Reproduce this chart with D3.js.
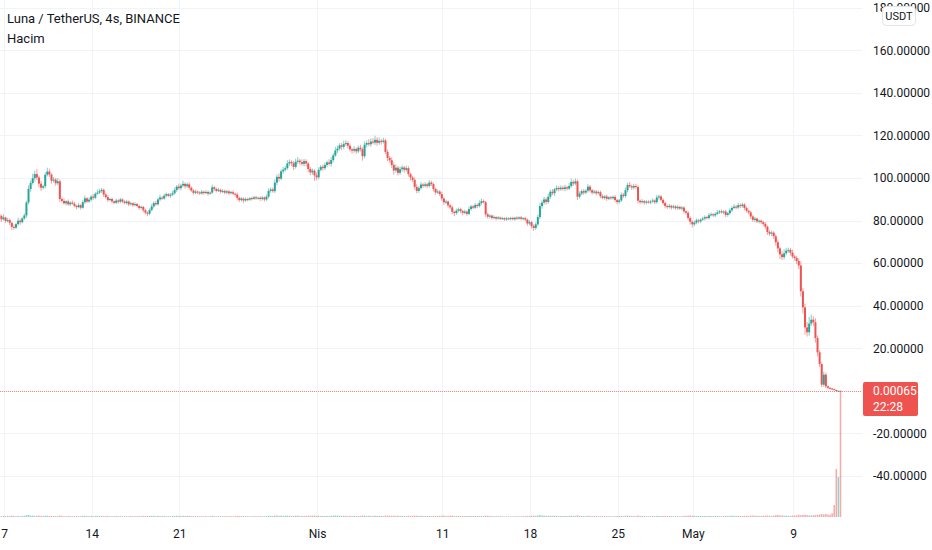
<!DOCTYPE html>
<html>
<head>
<meta charset="utf-8">
<script src="https://cdn.jsdelivr.net/npm/d3@7"></script>
<style>
	body { margin: 0; background: #ffffff; }
	svg { display: block; font-family: Roboto, "Noto Sans", sans-serif; }
</style>
</head>
<body>
<script>
// Luna / TetherUS 4h candles, Mar 6 15:00 -> May 12 19:00 (UTC), 6 candles per row
var firstOpen = 83.0;

var closes = [
	82.1, 80.6, 81.4, 79.8, 80.2, 78.9,
	77.0, 76.6, 78.3, 79.9, 79.2, 81.0,
	82.4, 88.5, 94.8, 97.6, 99.9, 101.8,
	100.2, 97.3, 95.4, 96.1, 101.5, 103.0,
	101.6, 98.7, 99.2, 97.5, 98.4, 90.1,
	89.2, 88.1, 89.0, 87.6, 88.4, 87.9,
	86.9, 86.3, 87.2, 86.0, 88.6, 90.4,
	88.9, 89.8, 91.2, 90.7, 92.6, 93.1,
	93.8, 94.4, 92.2, 91.0, 89.6, 90.1,
	89.0, 88.3, 89.4, 88.8, 89.9, 88.9,
	88.2, 88.9, 87.6, 88.1, 87.2, 87.7,
	86.8, 85.9, 86.4, 84.8, 83.7, 83.2,
	84.9, 86.6, 88.2, 87.6, 89.9, 90.8,
	90.3, 91.7, 92.4, 91.6, 92.1, 92.8,
	94.3, 95.9, 95.2, 96.4, 97.2, 96.1,
	97.0, 95.4, 94.1, 93.0, 93.6, 93.2,
	92.7, 93.5, 92.9, 93.4, 92.6, 93.1,
	95.6, 94.8, 93.9, 94.4, 93.5, 93.9,
	93.1, 93.7, 92.8, 93.3, 92.6, 92.2,
	90.6, 89.6, 90.3, 89.4, 90.1, 89.8,
	90.5, 90.2, 90.9, 90.4, 90.7, 90.1,
	90.8, 89.9, 91.2, 93.9, 94.6, 93.8,
	97.8, 100.5, 99.7, 103.1, 103.9, 104.6,
	106.8, 107.5, 106.9, 105.2, 107.6, 108.1,
	107.4, 106.6, 107.9, 106.8, 104.2, 102.6,
	103.4, 101.2, 100.3, 103.8, 105.2, 104.6,
	106.1, 107.3, 106.6, 108.4, 110.6, 112.9,
	113.8, 115.3, 114.6, 115.9, 116.4, 115.1,
	113.4, 112.8, 113.6, 112.5, 114.2, 113.5,
	110.2, 115.6, 116.4, 115.8, 117.1, 116.6,
	117.9, 116.5, 117.4, 116.9, 117.6, 112.2,
	109.4, 108.3, 106.1, 103.5, 104.8, 102.4,
	104.1, 104.9, 103.8, 104.6, 101.8, 100.2,
	99.1, 95.8, 93.9, 95.2, 96.9, 96.3,
	97.0, 96.2, 97.8, 97.1, 94.8, 93.2,
	93.6, 92.4, 90.3, 88.6, 88.9, 87.1,
	86.2, 84.1, 83.5, 84.6, 85.3, 84.4,
	83.6, 84.2, 83.1, 85.4, 86.6, 86.0,
	87.3, 86.8, 88.2, 89.1, 88.6, 82.9,
	81.8, 82.3, 81.2, 81.6, 80.9, 81.4,
	80.8, 81.1, 80.5, 81.0, 80.7, 81.2,
	80.6, 81.3, 80.9, 81.5, 80.8, 81.1,
	80.4, 78.6, 79.2, 77.4, 76.5, 78.2,
	81.6, 86.8, 88.4, 89.9, 88.7, 91.2,
	93.5, 92.8, 94.6, 95.3, 94.7, 95.4,
	94.8, 95.6, 95.0, 96.2, 98.1, 97.4,
	98.4, 91.2, 92.6, 93.8, 93.1, 94.0,
	95.9, 94.2, 93.1, 93.6, 92.8, 93.3,
	91.4, 90.6, 91.3, 90.2, 90.9, 90.5,
	91.1, 89.6, 88.7, 89.4, 92.1, 91.5,
	94.2, 96.7, 96.1, 95.5, 96.2, 95.7,
	89.3, 88.6, 89.1, 88.4, 88.9, 88.5,
	88.9, 89.4, 88.6, 90.8, 91.3, 89.7,
	88.2, 86.8, 86.3, 86.9, 86.1, 86.6,
	85.8, 86.4, 85.6, 86.1, 84.3, 83.6,
	81.2, 79.4, 78.2, 79.0, 80.1, 79.6,
	80.4, 80.9, 81.6, 81.2, 82.5, 82.9,
	82.4, 83.1, 83.8, 84.3, 83.9, 84.2,
	82.6, 83.4, 84.8, 85.9, 86.5, 86.1,
	87.2, 86.8, 87.5, 85.9, 84.6, 83.8,
	81.9, 80.3, 80.9, 79.6, 79.9, 79.2,
	78.4, 77.1, 74.6, 73.8, 74.3, 72.6,
	69.8, 66.9, 64.1, 62.8, 64.6, 65.8,
	66.2, 64.9, 63.1, 62.4, 61.0, 58.9,
	46.8, 39.2, 29.8, 27.5, 31.6, 33.4,
	32.2, 24.8, 18.1, 12.6, 2.9, 7.6,
	2.1, 1.4, 1.1, 0.8, 0.4, 0.03,
	0.05, 0.00065
];

var wickUp = [
	1.2, 0.6, 1.5, 0.4, 1.0, 0.8,
	0.5, 1.1, 0.7, 1.4, 0.9, 0.6,
	1.0, 0.8, 1.7, 1.2, 2.1, 1.6,
	2.4, 0.9, 1.3, 0.7, 1.1, 1.8,
	1.4, 0.6, 1.2, 0.8, 1.5, 0.9,
	0.7, 1.2, 0.5, 0.9, 0.6, 1.0,
	0.8, 0.5, 1.1, 0.6, 0.9, 1.3,
	0.6, 1.0, 0.8, 1.2, 0.7, 1.4,
	1.1, 0.9, 0.6, 0.8, 1.0, 0.5,
	0.7, 0.4, 0.9, 0.6, 0.8, 0.5,
	0.6, 0.8, 0.5, 0.7, 0.4, 0.9,
	0.5, 0.7, 0.6, 0.4, 0.8, 0.6,
	0.9, 1.2, 0.7, 1.0, 0.8, 1.3,
	0.6, 0.9, 0.7, 0.5, 0.8, 1.1,
	1.2, 0.8, 1.4, 0.9, 1.5, 0.7,
	0.8, 1.0, 0.6, 0.7, 0.9, 0.5,
	0.6, 0.8, 0.5, 0.9, 0.7, 0.6,
	1.3, 0.7, 0.6, 0.9, 0.5, 0.8,
	0.6, 0.8, 0.5, 0.7, 0.9, 0.4,
	0.9, 0.6, 0.8, 0.5, 0.7, 0.6,
	0.5, 0.7, 0.6, 0.8, 0.5, 0.6,
	0.7, 0.5, 1.0, 1.2, 0.9, 0.8,
	1.4, 1.1, 1.6, 0.9, 1.3, 1.0,
	1.5, 1.2, 0.8, 1.1, 1.4, 1.7,
	0.9, 1.3, 1.1, 0.8, 0.6, 0.9,
	1.0, 0.7, 1.4, 1.2, 0.9, 1.1,
	1.2, 0.8, 1.5, 1.3, 1.1, 1.6,
	1.4, 1.0, 1.2, 1.6, 1.3, 0.9,
	1.1, 0.8, 1.3, 0.7, 1.0, 1.4,
	0.9, 1.5, 1.2, 1.8, 1.4, 1.6,
	1.9, 1.2, 1.6, 1.0, 1.3, 0.8,
	1.1, 0.9, 1.4, 1.2, 1.6, 0.8,
	1.3, 1.0, 0.7, 1.2, 0.9, 0.6,
	0.8, 1.1, 1.3, 0.9, 1.2, 0.7,
	1.0, 0.8, 1.2, 0.9, 0.7, 0.6,
	0.9, 0.7, 1.1, 0.6, 0.8, 0.5,
	0.7, 0.9, 0.6, 1.0, 0.8, 0.7,
	0.6, 0.9, 0.5, 1.2, 0.8, 0.7,
	1.0, 0.7, 1.3, 1.1, 0.8, 0.6,
	0.8, 0.6, 0.5, 0.9, 0.4, 0.7,
	0.5, 0.6, 0.4, 0.7, 0.5, 0.6,
	0.6, 0.5, 0.7, 0.4, 0.6, 0.5,
	0.7, 0.5, 0.9, 0.6, 0.8, 1.0,
	1.2, 1.5, 1.1, 1.3, 0.9, 1.4,
	1.0, 1.3, 0.8, 1.2, 0.9, 1.1,
	0.9, 1.2, 0.7, 1.4, 1.6, 1.0,
	1.3, 0.9, 1.1, 0.8, 1.0, 0.7,
	1.2, 0.8, 0.6, 0.9, 0.7, 0.8,
	0.7, 0.9, 0.6, 0.8, 0.5, 0.7,
	0.6, 0.8, 0.5, 0.7, 1.1, 0.9,
	1.3, 1.0, 1.4, 0.8, 1.1, 0.9,
	0.8, 0.6, 0.9, 0.5, 0.7, 0.6,
	0.7, 0.9, 0.6, 1.2, 0.8, 0.7,
	0.8, 0.6, 0.7, 0.9, 0.5, 0.8,
	0.6, 0.8, 0.5, 0.7, 0.6, 0.5,
	0.9, 0.7, 0.6, 1.0, 0.8, 0.6,
	0.7, 0.9, 0.8, 0.6, 1.0, 0.8,
	0.6, 0.8, 1.1, 0.7, 0.9, 0.6,
	0.8, 0.7, 1.0, 0.9, 1.2, 0.8,
	1.1, 0.8, 0.9, 0.6, 0.7, 0.5,
	0.8, 0.6, 0.9, 0.5, 0.7, 0.6,
	0.7, 0.9, 0.6, 0.8, 1.0, 0.7,
	1.0, 1.2, 0.8, 1.5, 1.9, 1.3,
	1.1, 0.9, 1.4, 0.8, 1.0, 1.2,
	2.0, 1.5, 1.8, 2.6, 3.1, 2.4,
	1.6, 1.9, 1.2, 1.0, 0.8, 1.4,
	0.9, 0.5, 0.3, 0.2, 0.2, 0.1,
	0.02, 0.01
];

var wickDn = [
	0.8, 1.3, 0.6, 1.0, 0.7, 1.1,
	1.4, 0.9, 0.5, 0.8, 1.2, 0.6,
	0.7, 1.1, 0.9, 1.3, 0.8, 1.5,
	1.2, 1.8, 1.6, 0.9, 1.0, 0.8,
	1.1, 1.4, 0.8, 1.2, 0.9, 1.3,
	0.9, 0.6, 1.0, 0.7, 0.8, 0.5,
	0.7, 1.0, 0.6, 0.9, 0.5, 0.8,
	0.8, 0.6, 0.9, 1.0, 0.7, 0.5,
	0.6, 0.8, 1.1, 0.7, 0.9, 0.6,
	0.8, 0.6, 0.5, 0.9, 0.7, 0.6,
	0.5, 0.7, 0.9, 0.6, 0.8, 0.5,
	0.7, 0.9, 0.6, 1.0, 0.8, 1.2,
	0.8, 0.6, 0.9, 0.7, 0.5, 0.8,
	0.7, 0.5, 0.8, 0.6, 0.9, 0.5,
	0.6, 0.9, 0.7, 1.0, 0.8, 1.1,
	0.8, 1.1, 0.7, 0.9, 0.6, 0.8,
	0.7, 0.5, 0.8, 0.6, 0.9, 0.5,
	0.6, 0.9, 0.7, 0.5, 0.8, 0.6,
	0.8, 0.6, 0.9, 0.5, 0.7, 1.0,
	1.2, 0.9, 0.7, 1.1, 0.6, 0.8,
	0.6, 0.8, 0.5, 0.7, 0.6, 0.9,
	0.7, 1.0, 0.6, 0.8, 0.9, 0.7,
	0.9, 1.2, 1.4, 0.8, 1.1, 0.9,
	0.8, 1.1, 1.3, 1.6, 0.9, 1.0,
	1.2, 0.9, 1.1, 1.4, 1.6, 1.3,
	1.1, 2.6, 1.4, 1.0, 0.8, 1.2,
	0.9, 1.1, 0.8, 1.3, 1.0, 0.7,
	1.2, 0.9, 1.5, 1.1, 0.8, 1.3,
	1.0, 1.4, 0.9, 1.2, 0.8, 1.1,
	2.1, 1.0, 1.3, 0.9, 1.2, 0.8,
	1.1, 1.4, 0.9, 1.2, 0.8, 1.0,
	1.6, 1.2, 1.4, 1.9, 1.0, 1.3,
	0.9, 1.1, 1.3, 0.8, 1.2, 1.4,
	1.0, 1.3, 1.1, 0.9, 0.7, 1.0,
	0.8, 1.0, 0.7, 0.9, 1.2, 1.1,
	0.7, 0.9, 1.0, 1.2, 0.8, 1.1,
	0.9, 1.2, 1.4, 0.8, 0.7, 1.0,
	1.1, 0.7, 0.9, 0.6, 0.8, 0.7,
	0.6, 0.9, 0.7, 0.8, 0.6, 1.2,
	0.9, 0.7, 0.8, 0.6, 0.9, 0.5,
	0.6, 0.5, 0.7, 0.6, 0.5, 0.7,
	0.5, 0.7, 0.6, 0.5, 0.8, 0.6,
	0.9, 1.1, 0.8, 1.2, 1.4, 0.9,
	0.8, 1.0, 1.3, 0.9, 1.2, 0.8,
	1.1, 0.9, 1.2, 0.8, 1.0, 0.7,
	0.8, 1.1, 0.9, 0.7, 0.8, 1.2,
	0.9, 1.6, 1.0, 0.8, 1.1, 0.7,
	0.8, 1.0, 0.9, 0.7, 1.1, 0.6,
	0.9, 0.7, 0.8, 1.0, 0.6, 0.8,
	0.7, 0.9, 1.1, 0.8, 0.6, 0.9,
	0.8, 1.0, 0.7, 1.2, 0.9, 0.8,
	1.3, 0.9, 0.7, 1.0, 0.8, 0.6,
	0.8, 0.6, 0.9, 0.7, 1.0, 0.8,
	0.9, 1.1, 0.8, 0.7, 1.0, 0.6,
	0.7, 0.9, 0.6, 0.8, 1.0, 0.9,
	1.1, 1.3, 1.5, 0.9, 0.8, 1.0,
	0.8, 0.6, 0.9, 0.7, 0.8, 0.6,
	0.7, 0.9, 0.6, 0.8, 0.7, 0.9,
	1.0, 0.8, 0.7, 0.9, 0.6, 0.8,
	0.7, 0.9, 0.8, 1.1, 0.9, 1.0,
	1.2, 0.9, 1.1, 0.8, 1.0, 0.9,
	1.0, 1.2, 1.4, 0.9, 1.1, 1.3,
	1.6, 1.9, 2.2, 1.4, 1.1, 0.9,
	1.0, 1.3, 0.9, 1.2, 1.4, 1.8,
	2.5, 2.9, 3.4, 2.0, 1.6, 1.2,
	1.8, 2.2, 1.9, 1.5, 1.1, 1.0,
	0.8, 0.5, 0.4, 0.3, 0.2, 0.02,
	0.01, 0.0
];

// volume in relative units (last candle = 1000)
var volumes = [
	9, 7, 8, 6, 10, 8,
	11, 8, 7, 9, 6, 8,
	10, 14, 16, 12, 11, 9,
	10, 12, 9, 8, 11, 10,
	8, 9, 7, 8, 7, 12,
	9, 7, 6, 8, 7, 6,
	7, 8, 6, 7, 9, 10,
	8, 7, 9, 6, 8, 9,
	8, 9, 7, 8, 9, 6,
	7, 6, 8, 6, 7, 6,
	6, 7, 6, 8, 6, 7,
	7, 8, 6, 9, 8, 9,
	8, 9, 10, 7, 9, 8,
	7, 8, 6, 7, 6, 8,
	9, 10, 8, 9, 10, 8,
	9, 8, 7, 8, 6, 7,
	6, 7, 6, 7, 6, 6,
	9, 7, 6, 7, 6, 7,
	6, 7, 6, 7, 6, 7,
	9, 8, 7, 8, 6, 7,
	6, 6, 7, 6, 6, 7,
	7, 6, 8, 10, 9, 8,
	11, 12, 10, 11, 9, 10,
	11, 10, 8, 9, 10, 11,
	8, 9, 8, 9, 10, 11,
	10, 12, 9, 10, 8, 9,
	8, 9, 8, 10, 11, 12,
	11, 10, 9, 10, 9, 8,
	9, 8, 9, 7, 8, 9,
	12, 11, 9, 10, 9, 8,
	10, 9, 8, 9, 8, 12,
	11, 10, 9, 11, 9, 10,
	8, 9, 8, 7, 10, 9,
	9, 11, 10, 8, 9, 8,
	8, 7, 8, 7, 9, 8,
	8, 9, 10, 11, 8, 9,
	10, 11, 9, 8, 8, 7,
	8, 7, 8, 9, 8, 7,
	8, 7, 8, 8, 7, 11,
	9, 8, 7, 6, 7, 6,
	6, 6, 5, 6, 5, 6,
	5, 6, 6, 5, 6, 6,
	7, 9, 8, 10, 11, 9,
	12, 15, 12, 11, 9, 10,
	10, 9, 10, 9, 8, 8,
	8, 9, 7, 9, 10, 9,
	9, 13, 9, 8, 7, 7,
	9, 8, 7, 7, 8, 6,
	7, 7, 6, 7, 6, 6,
	6, 7, 8, 7, 9, 7,
	10, 11, 9, 8, 8, 7,
	12, 9, 8, 7, 7, 6,
	7, 8, 7, 9, 8, 8,
	8, 9, 7, 7, 8, 6,
	7, 7, 6, 7, 9, 9,
	11, 12, 10, 9, 8, 8,
	8, 7, 8, 7, 9, 8,
	7, 8, 8, 7, 7, 7,
	9, 8, 9, 10, 9, 8,
	9, 8, 8, 9, 10, 9,
	11, 12, 10, 10, 9, 9,
	10, 11, 12, 10, 9, 11,
	14, 16, 13, 12, 10, 11,
	9, 10, 11, 12, 13, 18,
	14, 16, 18, 15, 12, 13,
	14, 15, 17, 19, 24, 20,
	25, 20, 18, 30, 95, 381,
	317, 1000
];

var priceTicks = [180, 160, 140, 120, 100, 80, 60, 40, 20, 0, -20, -40];
var dateTicks = ["2022-03-07", "2022-03-14", "2022-03-21", "2022-04-01", "2022-04-11",
	"2022-04-18", "2022-04-25", "2022-05-01", "2022-05-09"];
var dateLabels = ["7", "14", "21", "Nis", "11", "18", "25", "May", "9"];

var lastPrice = 0.00065,
	countdown = "22:28";

var width		= 932,
	height		= 550,
	plotRight	= 862,
	plotBottom	= 518,
	up			= "#26a69a",
	down		= "#ef5350",
	gridColor	= "#f0f3fa",
	textColor	= "#131722";

var start = Date.UTC(2022, 2, 6, 15);

var candles = closes.map(function(c, i) {
	var o = i ? closes[i - 1] : firstOpen;
	return {
		t: new Date(start + i * 4 * 3600 * 1000),
		o: o,
		c: c,
		h: Math.max(o, c) + wickUp[i],
		l: Math.max(0, Math.min(o, c) - wickDn[i]),
		v: volumes[i]
	};
});

var x = d3.scaleUtc()
	.domain([new Date(Date.UTC(2022, 2, 7)), new Date(Date.UTC(2022, 4, 9))])
	.range([4, 793]);

var y = d3.scaleLinear()
	.domain([-40, 180])
	.range([476, 7.6]);

var yVol = d3.scaleLinear()
	.domain([0, d3.max(volumes)])
	.range([517, 391]);

var svg = d3.select("body")
	.append("svg")
	.attr("width", width)
	.attr("height", height);

svg.append("defs").append("clipPath")
	.attr("id", "plot")
	.append("rect")
	.attr("x", 0)
	.attr("y", 0)
	.attr("width", plotRight)
	.attr("height", plotBottom);

// grid
svg.append("g")
	.selectAll("line")
	.data(priceTicks)
	.join("line")
	.attr("x1", 0)
	.attr("x2", plotRight)
	.attr("y1", function(d) { return Math.round(y(d)) + 0.5; })
	.attr("y2", function(d) { return Math.round(y(d)) + 0.5; })
	.attr("stroke", gridColor);

svg.append("g")
	.selectAll("line")
	.data(dateTicks)
	.join("line")
	.attr("x1", function(d) { return Math.round(x(new Date(d))) + 0.5; })
	.attr("x2", function(d) { return Math.round(x(new Date(d))) + 0.5; })
	.attr("y1", 0)
	.attr("y2", plotBottom)
	.attr("stroke", gridColor);

var plot = svg.append("g").attr("clip-path", "url(#plot)");

// volume
plot.append("g")
	.selectAll("rect")
	.data(candles)
	.join("rect")
	.attr("x", function(d) { return x(d.t) - 0.75; })
	.attr("width", 1.5)
	.attr("y", function(d) { return yVol(d.v); })
	.attr("height", function(d) { return 517 - yVol(d.v); })
	.attr("fill", function(d) { return d.c >= d.o ? up : down; })
	.attr("opacity", 0.5);

// last price line
plot.append("line")
	.attr("x1", 0)
	.attr("x2", plotRight)
	.attr("y1", Math.round(y(lastPrice)) + 0.5)
	.attr("y2", Math.round(y(lastPrice)) + 0.5)
	.attr("stroke", "#f28b89")
	.attr("stroke-dasharray", "1,1");

// candles
var candle = plot.append("g")
	.selectAll("g")
	.data(candles)
	.join("g");

candle.append("line")
	.attr("x1", function(d) { return x(d.t); })
	.attr("x2", function(d) { return x(d.t); })
	.attr("y1", function(d) { return y(d.h); })
	.attr("y2", function(d) { return y(d.l); })
	.attr("stroke", function(d) { return d.c >= d.o ? up : down; })
	.attr("stroke-width", 1)
	.attr("opacity", 0.55);

candle.append("rect")
	.attr("x", function(d) { return x(d.t) - 1; })
	.attr("width", 2)
	.attr("y", function(d) { return y(Math.max(d.o, d.c)); })
	.attr("height", function(d) { return Math.max(1, Math.abs(y(d.o) - y(d.c))); })
	.attr("fill", function(d) { return d.c >= d.o ? up : down; });

// price axis (the 0 label sits under the last-price tag, so it is not drawn)
var yAxis = svg.append("g")
	.attr("transform", "translate(873,0)")
	.call(d3.axisRight(y)
		.tickValues(priceTicks.filter(function(d) { return d !== 0; }))
		.tickFormat(function(d) { return d.toFixed(5); })
		.tickSize(0)
		.tickPadding(0));

yAxis.select(".domain").remove();
yAxis.selectAll("text")
	.attr("fill", textColor)
	.style("font-size", "12px")
	.style("font-family", "Roboto, sans-serif");

// time axis
var xAxis = svg.append("g")
	.attr("transform", "translate(0," + plotBottom + ")")
	.call(d3.axisBottom(x)
		.tickValues(dateTicks.map(function(d) { return new Date(d); }))
		.tickFormat(function(d, i) { return dateLabels[i]; })
		.tickSize(0)
		.tickPadding(11));

xAxis.select(".domain").remove();
xAxis.selectAll("text")
	.attr("fill", textColor)
	.style("font-size", "12px")
	.style("font-family", "Roboto, sans-serif");

// last price label
var tag = svg.append("g");

tag.append("rect")
	.attr("x", 863)
	.attr("y", Math.round(y(lastPrice)) - 9)
	.attr("width", 55)
	.attr("height", 34)
	.attr("rx", 2)
	.attr("fill", down);

tag.append("text")
	.attr("x", 873)
	.attr("y", y(lastPrice) + 4.5)
	.attr("fill", "#ffffff")
	.style("font-size", "12px")
	.text(lastPrice.toFixed(5));

tag.append("text")
	.attr("x", 873)
	.attr("y", y(lastPrice) + 20.5)
	.attr("fill", "#ffffff")
	.style("font-size", "12px")
	.text(countdown);

// currency badge (sits on top of the 180 label, as in TradingView)
svg.append("rect")
	.attr("x", 882.5)
	.attr("y", 6.5)
	.attr("width", 33)
	.attr("height", 19)
	.attr("rx", 4)
	.attr("fill", "#ffffff")
	.attr("stroke", "#e0e3eb");

svg.append("text")
	.attr("x", 899)
	.attr("y", 20)
	.attr("text-anchor", "middle")
	.attr("fill", textColor)
	.style("font-size", "11px")
	.text("USDT");

// legend
svg.append("text")
	.attr("x", 7)
	.attr("y", 23)
	.attr("fill", textColor)
	.style("font-size", "13px")
	.text("Luna / TetherUS, 4s, BINANCE");

svg.append("text")
	.attr("x", 7)
	.attr("y", 43)
	.attr("fill", textColor)
	.style("font-size", "13px")
	.text("Hacim");
</script>
</body>
</html>
